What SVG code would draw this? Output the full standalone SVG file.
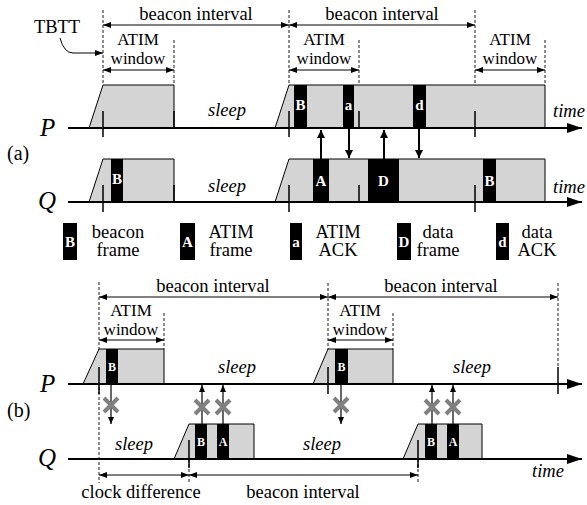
<svg xmlns="http://www.w3.org/2000/svg" width="587" height="505" viewBox="0 0 587 505" font-family="'Liberation Serif', 'Times New Roman', serif">
<style>
text{font-family:'Liberation Serif','Times New Roman',serif;fill:#000}
.t{font-size:18.5px;text-anchor:middle}
.w{font-size:17px;text-anchor:middle}
.it{font-style:italic;font-size:18.5px}
.lab{font-style:italic;font-size:25px}
.fl{font-weight:bold;font-size:15px;fill:#fff;text-anchor:middle}
.fs{font-weight:bold;font-size:12px;fill:#fff;text-anchor:middle}
.dash{stroke:#000;stroke-width:0.9;stroke-dasharray:3,2;fill:none}
.dim{stroke:#000;stroke-width:1;fill:none;marker-start:url(#sa);marker-end:url(#sa)}
.ax{stroke:#000;stroke-width:2.2;fill:none;marker-end:url(#big)}
.tk{stroke:#000;stroke-width:1.5;fill:none}
.g{fill:#d4d4d4;stroke:#000;stroke-width:1}
.blk{fill:#000}
.tx{stroke:#000;stroke-width:2;fill:none;marker-end:url(#mid)}
.tb{stroke:#000;stroke-width:1.2;fill:none;marker-end:url(#sm)}
.x{stroke:#808080;stroke-width:4;fill:none}
</style>
<defs>
<marker id="sa" viewBox="0 0 8 6" refX="8" refY="3" markerWidth="8" markerHeight="6" markerUnits="userSpaceOnUse" orient="auto-start-reverse"><path d="M0,0 L8,3 L0,6 z"/></marker>
<marker id="big" viewBox="0 0 15 10" refX="15" refY="5" markerWidth="15" markerHeight="10" markerUnits="userSpaceOnUse" orient="auto"><path d="M0,0 L15,5 L0,10 z"/></marker>
<marker id="mid" viewBox="0 0 8 8" refX="8" refY="4" markerWidth="8" markerHeight="8" markerUnits="userSpaceOnUse" orient="auto"><path d="M0,0 L8,4 L0,8 z"/></marker>
<marker id="sm" viewBox="0 0 7 6" refX="7" refY="3" markerWidth="7" markerHeight="6" markerUnits="userSpaceOnUse" orient="auto"><path d="M0,0 L7,3 L0,6 z"/></marker>
</defs>

<!-- ===== Part (a) ===== -->
<g id="a-header">
<text class="t" x="196" y="20">beacon interval</text>
<text class="t" x="382" y="20">beacon interval</text>
<text class="t" x="57" y="33">TBTT</text>
<text class="w" x="138" y="45">ATIM</text><text class="w" x="138" y="64">window</text>
<text class="w" x="324" y="45">ATIM</text><text class="w" x="324" y="64">window</text>
<text class="w" x="510" y="45">ATIM</text><text class="w" x="510" y="64">window</text>
<text x="7" y="160" style="font-size:20px">(a)</text>
</g>
<g id="a-guides">
<line class="dash" x1="103" y1="10" x2="103" y2="85"/>
<line class="dash" x1="289" y1="10" x2="289" y2="85"/>
<line class="dash" x1="475" y1="10" x2="475" y2="85"/>
<line class="dash" x1="174" y1="40" x2="174" y2="85"/>
<line class="dash" x1="359" y1="40" x2="359" y2="85"/>
<line class="dash" x1="545" y1="40" x2="545" y2="85"/>
<line class="dim" x1="103" y1="25" x2="289" y2="25"/>
<line class="dim" x1="289" y1="25" x2="475" y2="25"/>
<line class="dim" x1="103" y1="70" x2="174" y2="70"/>
<line class="dim" x1="289" y1="70" x2="359" y2="70"/>
<line class="dim" x1="475" y1="70" x2="545" y2="70"/>
<path d="M60,38 Q64,53 73,53 L103,53" style="stroke:#000;stroke-width:1;fill:none;marker-end:url(#sa)"/>
</g>
<g id="a-P">
<polygon class="g" points="89,128 103,85 174,85 174,128"/>
<polygon class="g" points="275,128 289,85 545,85 545,128"/>
<rect class="blk" x="294" y="85" width="13" height="43"/>
<rect class="blk" x="343" y="85" width="11" height="43"/>
<rect class="blk" x="413" y="85" width="13" height="43"/>
<text class="fl" x="300.5" y="110">B</text>
<text class="fl" x="348.5" y="110">a</text>
<text class="fl" x="419.5" y="110">d</text>
<line class="ax" x1="68" y1="128" x2="582" y2="128"/>
<line class="tk" x1="103" y1="111" x2="103" y2="137"/>
<line class="tk" x1="289" y1="111" x2="289" y2="137"/>
<line class="tk" x1="475" y1="111" x2="475" y2="137"/>
<line class="tk" x1="174" y1="111" x2="174" y2="128"/>
<line class="tk" x1="359" y1="111" x2="359" y2="128"/>
<text class="lab" x="40" y="136">P</text>
<text class="it" x="208" y="116">sleep</text>
<text class="it" x="553" y="117">time</text>
</g>
<g id="a-Q">
<polygon class="g" points="89,202 103,159 174,159 174,202"/>
<polygon class="g" points="275,202 289,159 545,159 545,202"/>
<rect class="blk" x="111" y="159" width="12" height="43"/>
<rect class="blk" x="313" y="159" width="16" height="43"/>
<rect class="blk" x="368" y="159" width="31" height="43"/>
<rect class="blk" x="483" y="159" width="13" height="43"/>
<text class="fl" x="117" y="184">B</text>
<text class="fl" x="321" y="186">A</text>
<text class="fl" x="383.5" y="186">D</text>
<text class="fl" x="489.5" y="186">B</text>
<line class="ax" x1="68" y1="202" x2="582" y2="202"/>
<line class="tk" x1="103" y1="185" x2="103" y2="212"/>
<line class="tk" x1="289" y1="185" x2="289" y2="212"/>
<line class="tk" x1="475" y1="185" x2="475" y2="212"/>
<line class="tk" x1="174" y1="185" x2="174" y2="202"/>
<line class="tk" x1="359" y1="185" x2="359" y2="202"/>
<text class="lab" x="38" y="209">Q</text>
<text class="it" x="208" y="192">sleep</text>
<text class="it" x="553" y="193">time</text>
</g>
<g id="a-arrows">
<line class="tx" x1="321" y1="159" x2="321" y2="130"/>
<line class="tx" x1="349" y1="128" x2="349" y2="158"/>
<line class="tx" x1="384" y1="159" x2="384" y2="130"/>
<line class="tx" x1="419" y1="128" x2="419" y2="158"/>
</g>
<g id="legend">
<rect class="blk" x="63" y="223" width="14" height="37"/><text class="fl" x="70" y="247">B</text>
<text class="t" x="118" y="237.5">beacon</text><text class="t" x="118" y="256">frame</text>
<rect class="blk" x="180" y="223" width="15" height="37"/><text class="fl" x="187.5" y="247">A</text>
<text class="t" x="231" y="237.5">ATIM</text><text class="t" x="231" y="256">frame</text>
<rect class="blk" x="290" y="223" width="12" height="37"/><text class="fl" x="296" y="247">a</text>
<text class="t" x="338" y="237.5">ATIM</text><text class="t" x="338" y="256">ACK</text>
<rect class="blk" x="397" y="223" width="14" height="37"/><text class="fl" x="404" y="247">D</text>
<text class="t" x="438" y="237.5">data</text><text class="t" x="438" y="256">frame</text>
<rect class="blk" x="496" y="223" width="13" height="37"/><text class="fl" x="502.5" y="247">d</text>
<text class="t" x="537" y="237.5">data</text><text class="t" x="537" y="256">ACK</text>
</g>

<!-- ===== Part (b) ===== -->
<g id="b-header">
<text class="t" x="213" y="292">beacon interval</text>
<text class="t" x="441" y="292">beacon interval</text>
<text class="w" x="131" y="316">ATIM</text><text class="w" x="131" y="335">window</text>
<text class="w" x="360" y="316">ATIM</text><text class="w" x="360" y="335">window</text>
<text x="7" y="417" style="font-size:20px">(b)</text>
</g>
<g id="b-guides">
<line class="dash" x1="99" y1="282" x2="99" y2="483"/>
<line class="dash" x1="328" y1="283" x2="328" y2="349"/>
<line class="dash" x1="558" y1="283" x2="558" y2="367"/>
<line class="dash" x1="164" y1="313" x2="164" y2="349"/>
<line class="dash" x1="393" y1="313" x2="393" y2="349"/>
<line class="dash" x1="189" y1="459" x2="189" y2="483"/>
<line class="dash" x1="418" y1="459" x2="418" y2="483"/>
<line class="dim" x1="99" y1="297" x2="328" y2="297"/>
<line class="dim" x1="328" y1="297" x2="558" y2="297"/>
<line class="dim" x1="99" y1="340" x2="164" y2="340"/>
<line class="dim" x1="328" y1="340" x2="393" y2="340"/>
<line class="dim" x1="99" y1="475" x2="189" y2="475"/>
<line class="dim" x1="189" y1="475" x2="418" y2="475"/>
<text class="t" x="141" y="498">clock difference</text>
<text class="t" x="303" y="498">beacon interval</text>
</g>
<g id="b-P">
<polygon class="g" points="83,384 99,349 164,349 164,384"/>
<polygon class="g" points="313,384 328,349 393,349 393,384"/>
<rect class="blk" x="106" y="349" width="12" height="35"/>
<rect class="blk" x="335" y="349" width="13" height="35"/>
<text class="fs" x="112" y="371">B</text>
<text class="fs" x="341.5" y="371">B</text>
<line class="ax" x1="68" y1="384" x2="582" y2="384"/>
<line class="tk" x1="99" y1="367" x2="99" y2="394"/>
<line class="tk" x1="328" y1="367" x2="328" y2="394"/>
<line class="tk" x1="558" y1="367" x2="558" y2="394"/>
<text class="lab" x="40" y="392">P</text>
<text class="it" x="218" y="373">sleep</text>
<text class="it" x="453" y="373">sleep</text>
</g>
<g id="b-Q">
<polygon class="g" points="174,459 189,424 254,424 254,459"/>
<polygon class="g" points="403,459 418,424 482,424 482,459"/>
<rect class="blk" x="195" y="424" width="12" height="35"/>
<rect class="blk" x="217" y="424" width="12" height="35"/>
<rect class="blk" x="425" y="424" width="12" height="35"/>
<rect class="blk" x="447" y="424" width="12" height="35"/>
<text class="fs" x="201" y="446">B</text>
<text class="fs" x="223" y="446">A</text>
<text class="fs" x="431" y="446">B</text>
<text class="fs" x="453" y="446">A</text>
<line class="ax" x1="68" y1="459" x2="582" y2="459"/>
<line class="tk" x1="189" y1="440" x2="189" y2="468"/>
<line class="tk" x1="418" y1="440" x2="418" y2="468"/>
<text class="lab" x="38" y="466">Q</text>
<text class="it" x="115" y="450">sleep</text>
<text class="it" x="303" y="450">sleep</text>
<text class="it" x="532" y="477">time</text>
</g>
<g id="b-arrows">
<line class="tb" x1="111" y1="384" x2="111" y2="424"/>
<line class="tb" x1="341" y1="384" x2="341" y2="424"/>
<line class="tb" x1="202" y1="424" x2="202" y2="385"/>
<line class="tb" x1="223" y1="424" x2="223" y2="385"/>
<line class="tb" x1="432" y1="424" x2="432" y2="385"/>
<line class="tb" x1="453" y1="424" x2="453" y2="385"/>
<path class="x" d="M104,398 L118,412 M118,398 L104,412"/>
<path class="x" d="M334,398 L348,412 M348,398 L334,412"/>
<path class="x" d="M195,400 L209,414 M209,400 L195,414"/>
<path class="x" d="M216,400 L230,414 M230,400 L216,414"/>
<path class="x" d="M425,400 L439,414 M439,400 L425,414"/>
<path class="x" d="M446,400 L460,414 M460,400 L446,414"/>
</g>
</svg>
